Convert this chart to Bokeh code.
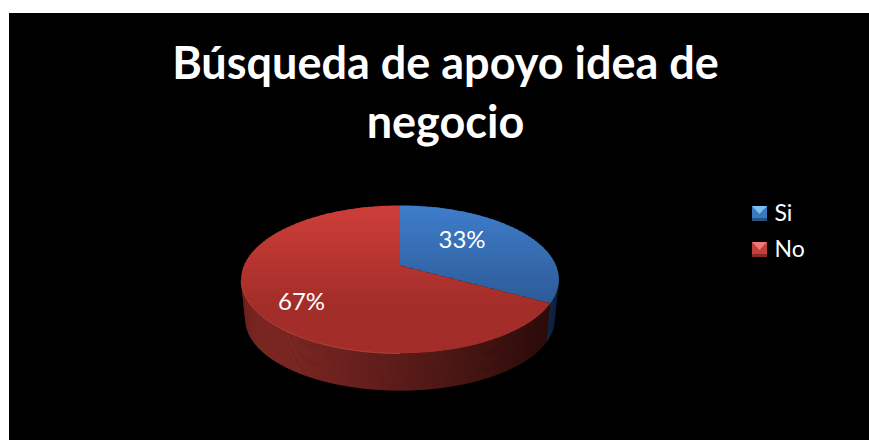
from math import sin, cos, pi, acos

from bokeh.core.properties import value
from bokeh.embed import file_html
from bokeh.models import Range1d
from bokeh.plotting import figure
from bokeh.resources import INLINE

# Chart content
title_lines = ["Búsqueda de apoyo idea de", "negocio"]
categories = ["Si", "No"]
shares = [33, 67]

# Colours of each slice: top-face gradient, wall gradient, legend key
FACE_TOP = {"Si": (62, 125, 203), "No": (206, 62, 57)}
FACE_BOT = {"Si": (44, 90, 150), "No": (163, 45, 41)}
WALL_A = {"Si": (24, 58, 98), "No": (134, 43, 38)}
WALL_B = {"Si": (20, 44, 74), "No": (52, 15, 14)}
KEY_BASE = {"Si": "#3a78c0", "No": "#c0403c"}
KEY_LIGHT = {"Si": "#78c0f4", "No": "#ee7a74"}
KEY_DARK = {"Si": "#28527f", "No": "#83292a"}

# Layout, in page pixels
W, H = 869, 440
CX = 399.5
TOP_Y0, TOP_RX, TOP_RY = 265, 156.0, 71.35
BOT_Y0, BOT_RX, BOT_RY = 305, 152.0, 69.0
TILT = 0.189

p = figure(width=W, height=H, output_backend="svg", toolbar_location=None,
           x_range=Range1d(0, W), y_range=Range1d(H, 0),
           x_axis_location=None, y_axis_location=None,
           min_border=0, outline_line_color=None, background_fill_color="white",
           border_fill_color="white")
p.grid.visible = False

# Black chart panel inset from the top and left page edges
p.quad(left=[8.5], right=[W + 2], top=[12.5], bottom=[H + 2], fill_color="black", line_color=None)


def project(theta, y0, rx, ry):
    """Perspective view of a disc; theta runs clockwise from twelve o'clock."""
    u, v = sin(theta), cos(theta)
    w = 1.0 / (1.0 + TILT * v)
    return CX + rx * u * w, y0 - ry * v * w


def mix(a, b, t):
    t = max(0.0, min(1.0, t))
    return tuple(int(round(a[i] + (b[i] - a[i]) * t)) for i in range(3))


def to_hex(c):
    return "#%02x%02x%02x" % c


def clip_band(pts, y1, y2):
    """Clip a polygon to the horizontal band y1..y2."""
    def clip(poly, inside, cross):
        out = []
        for i in range(len(poly)):
            a, b = poly[i], poly[(i + 1) % len(poly)]
            if inside(a):
                out.append(a)
            if inside(a) != inside(b):
                out.append(cross(a, b))
        return out

    def at(level):
        def cross(a, b):
            t = (level - a[1]) / (b[1] - a[1])
            return (a[0] + (b[0] - a[0]) * t, level)
        return cross

    poly = clip(pts, lambda q: q[1] >= y1, at(y1))
    if poly:
        poly = clip(poly, lambda q: q[1] <= y2, at(y2))
    return poly


# Slice angles come straight from the shares
total = sum(shares)
spans = {}
start = 0.0
for name, share in zip(categories, shares):
    end = start + 2 * pi * share / total
    spans[name] = (start, end)
    start = end

# Wall: thin quads between the rim of the top face and the rim of the base
limit = acos(-TILT)
wall_xs, wall_ys, wall_colors = [], [], []
steps = 420
for i in range(steps):
    a = limit + (2 * pi - 2 * limit) * i / steps
    b = limit + (2 * pi - 2 * limit) * (i + 1.6) / steps
    mid = (a + b) / 2
    name = next(n for n in categories if spans[n][0] <= mid < spans[n][1])
    p1, p2 = project(a, TOP_Y0, TOP_RX, TOP_RY), project(b, TOP_Y0, TOP_RX, TOP_RY)
    q1, q2 = project(a, BOT_Y0, BOT_RX, BOT_RY), project(b, BOT_Y0, BOT_RX, BOT_RY)
    wall_xs.append([p1[0], p2[0], q2[0], q1[0]])
    wall_ys.append([p1[1], p2[1], q2[1], q1[1]])
    x_pos = (p1[0] - 241) / 318
    wall_colors.append(to_hex(mix(WALL_B[name], WALL_A[name], 1.05 - x_pos * 1.15)))
# Drawn right to left so the overlap of each strip stays hidden
p.patches(wall_xs[::-1], wall_ys[::-1], fill_color=wall_colors[::-1], line_color=None)

# Top face: horizontal bands for the vertical colour gradient
face_xs, face_ys, face_colors = [], [], []
for name in categories:
    a0, a1 = spans[name]
    n = max(24, int((a1 - a0) * 60))
    outline = [(CX, TOP_Y0)] + [project(a0 + (a1 - a0) * k / n, TOP_Y0, TOP_RX, TOP_RY) for k in range(n + 1)]
    y = 205.0
    while y < 354:
        band = clip_band(outline, y, y + 2.6)
        if len(band) >= 3:
            face_xs.append([q[0] for q in band])
            face_ys.append([q[1] for q in band])
            face_colors.append(to_hex(mix(FACE_TOP[name], FACE_BOT[name], (y - 205) / 100)))
        y += 2.0
p.patches(face_xs, face_ys, fill_color=face_colors, line_color=None)

# Lighter bevel along the front-left rim
rim = [project(limit + (2 * pi - 2 * limit) * k / 200, TOP_Y0, TOP_RX, TOP_RY) for k in range(100, 200)]
p.line([q[0] for q in rim], [q[1] for q in rim], line_color="#c24a44", line_width=1, line_alpha=0.8)

# Percentage labels
label_pos = {"Si": (461.5, 238), "No": (301, 300)}
p.text(x=[label_pos[n][0] for n in categories], y=[label_pos[n][1] for n in categories],
       text=["%d%%" % s for s in shares], text_color="white",
       text_font=value("Lato"), text_font_size="24px",
       text_align="center", text_baseline="middle")

# Title
p.text(x=[445, 445], y=[61.5, 120.5], text=title_lines, text_color="white",
       text_font=value("Lato"), text_font_style="bold", text_font_size="45px",
       text_align="center", text_baseline="alphabetic")

# Legend: bevelled square keys with their names
KEY_X, KEY_SIZE = 751.5, 15
key_tops = {"Si": 205.5, "No": 241.5}
for name in categories:
    x0, y0 = KEY_X, key_tops[name]
    x1, y1 = x0 + KEY_SIZE, y0 + KEY_SIZE
    p.quad(left=[x0], right=[x1], top=[y0], bottom=[y1], fill_color=KEY_BASE[name], line_color=None)
    p.patch([x0, x1, (x0 + x1) / 2], [y0, y0, y0 + 8], fill_color=KEY_LIGHT[name], line_color=None)
    p.quad(left=[x0], right=[x1], top=[y1 - 3], bottom=[y1], fill_color=KEY_DARK[name], line_color=None)
    p.text(x=[774], y=[y0 + 5.5], text=[name], text_color="white",
           text_font=value("Lato"), text_font_size="23px",
           text_align="left", text_baseline="middle")

open("out.html", "w").write(file_html(p, INLINE))
